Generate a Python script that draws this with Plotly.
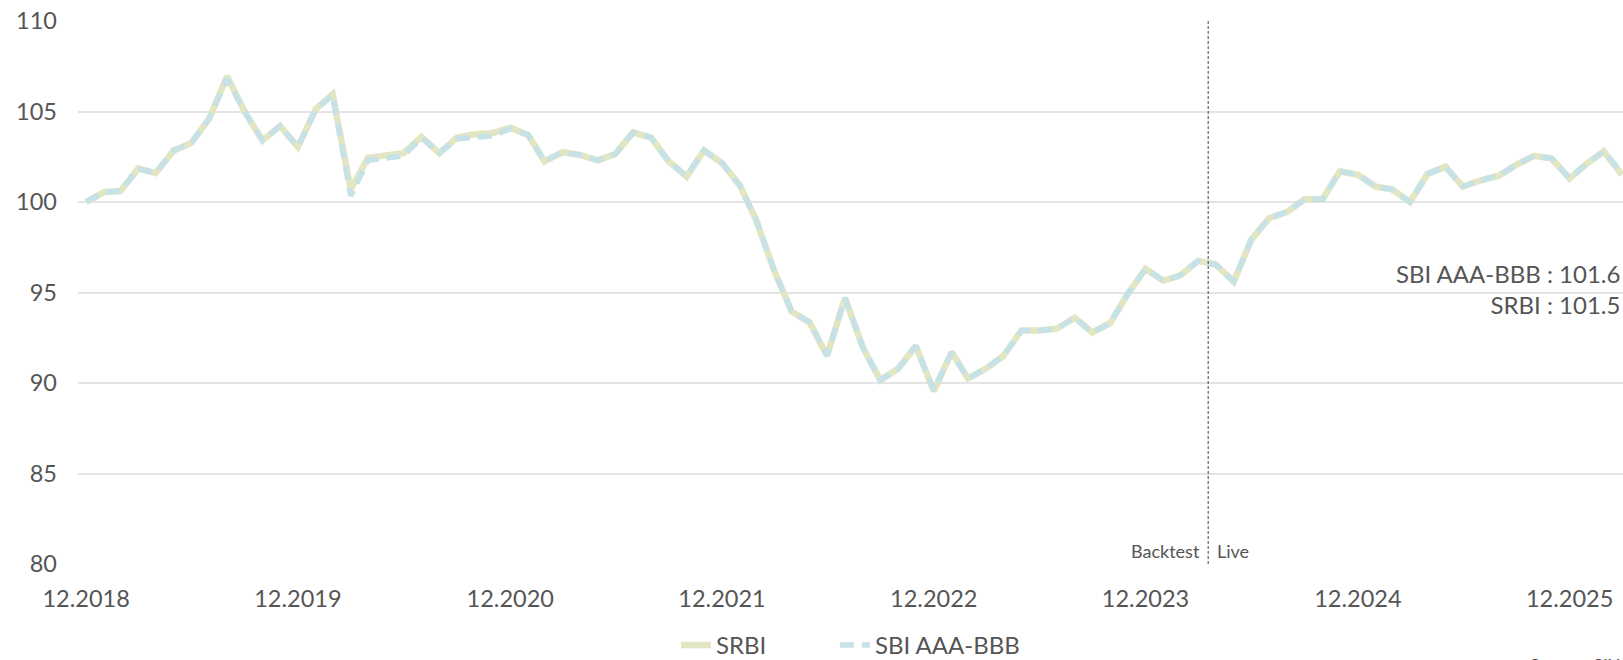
import pandas as pd
import plotly.graph_objects as go

# Monthly observations, Dec 2018 .. Mar 2026 (month ends)
dates = pd.date_range("2018-12-31", periods=88, freq=pd.offsets.MonthEnd())

srbi = [
    100.0, 100.55, 100.6, 101.85, 101.6, 102.85, 103.25, 104.6, 106.95, 105.0,
    103.4, 104.2, 103.05, 105.15, 105.95, 100.7, 102.45, 102.55, 102.7, 103.6,
    102.7, 103.55, 103.75, 103.8, 104.1, 103.7, 102.25, 102.75, 102.6, 102.3,
    102.65, 103.85, 103.55, 102.25, 101.4, 102.85, 102.15, 100.9, 99.0, 96.2,
    93.95, 93.35, 91.5, 94.7, 91.95, 90.15, 90.8, 92.05, 89.55, 91.7,
    90.25, 90.8, 91.5, 92.9, 92.9, 93.0, 93.6, 92.8, 93.3, 94.9,
    96.3, 95.65, 95.95, 96.75, 96.55, 95.6, 97.9, 99.1, 99.45, 100.15,
    100.15, 101.7, 101.5, 100.85, 100.7, 100.0, 101.55, 101.95, 100.85, 101.2,
    101.45, 102.05, 102.55, 102.4, 101.3, 102.15, 102.8, 101.5,
]

sbi_aaa_bbb = [
    100.0, 100.55, 100.6, 101.85, 101.6, 102.85, 103.25, 104.6, 106.8, 105.0,
    103.4, 104.2, 103.05, 105.1, 105.9, 100.35, 102.3, 102.4, 102.55, 103.55,
    102.7, 103.5, 103.6, 103.65, 104.05, 103.7, 102.25, 102.75, 102.6, 102.3,
    102.65, 103.85, 103.55, 102.25, 101.45, 102.85, 102.15, 100.9, 99.0, 96.2,
    93.95, 93.35, 91.5, 94.7, 91.95, 90.15, 90.8, 92.05, 89.6, 91.7,
    90.25, 90.8, 91.5, 92.9, 92.9, 93.0, 93.6, 92.8, 93.3, 94.9,
    96.3, 95.65, 95.95, 96.75, 96.55, 95.6, 97.9, 99.1, 99.45, 100.15,
    100.15, 101.7, 101.5, 100.85, 100.7, 100.0, 101.55, 101.95, 100.85, 101.2,
    101.45, 102.05, 102.55, 102.4, 101.3, 102.15, 102.8, 101.6,
]

tick_dates = ["2018-12-31", "2019-12-31", "2020-12-31", "2021-12-31",
              "2022-12-31", "2023-12-31", "2024-12-31", "2025-12-31"]
tick_labels = ["12.2018", "12.2019", "12.2020", "12.2021",
               "12.2022", "12.2023", "12.2024", "12.2025"]
live_date = "2024-04-17"

FONT = "Lato, 'Open Sans', sans-serif"
GREY = "#555555"
KHAKI = "#e2e6c2"
BLUE = "#c6e2e7"

fig = go.Figure()
fig.add_trace(go.Scatter(
    x=dates, y=srbi, name="SRBI", mode="lines", legend="legend",
    line=dict(color=KHAKI, width=6.5),
))
fig.add_trace(go.Scatter(
    x=dates, y=sbi_aaa_bbb, name="SBI AAA-BBB", mode="lines", legend="legend2",
    line=dict(color=BLUE, width=5.5, dash="14px,8px"),
))

fig.add_shape(type="line", xref="x", yref="y", x0=live_date, x1=live_date,
              y0=80, y1=110, line=dict(color="#444444", width=1, dash="3px,2px"))

fig.add_annotation(x=live_date, y=80, xref="x", yref="y", text="Backtest",
                   showarrow=False, xanchor="right", yanchor="bottom",
                   xshift=-6, yshift=0, font=dict(family=FONT, size=18, color=GREY))
fig.add_annotation(x=live_date, y=80, xref="x", yref="y", text="Live",
                   showarrow=False, xanchor="left", yanchor="bottom",
                   xshift=7, yshift=0, font=dict(family=FONT, size=18, color=GREY))

fig.add_annotation(x=1, y=95.17, xref="paper", yref="y",
                   text=f"SBI AAA-BBB : {sbi_aaa_bbb[-1]:.1f}<br>SRBI : {srbi[-1]:.1f}",
                   showarrow=False, xanchor="right", yanchor="middle", align="right",
                   xshift=-1, font=dict(family=FONT, size=24, color=GREY))

fig.add_annotation(x=0.9385, y=-0.162, xref="paper", yref="paper",
                   text="Source: SIX", showarrow=False, xanchor="left", yanchor="top",
                   font=dict(family=FONT, size=18, color=GREY))

legend_style = dict(orientation="h", xanchor="left", y=-0.15, yanchor="middle",
                    font=dict(family=FONT, size=24, color=GREY), bgcolor="rgba(0,0,0,0)")
fig.update_layout(
    width=1623, height=660,
    margin=dict(l=78, r=0, t=21, b=96, autoexpand=False),
    paper_bgcolor="white", plot_bgcolor="white",
    font=dict(family=FONT, color=GREY),
    showlegend=True,
    legend=dict(x=0.387, **legend_style),
    legend2=dict(x=0.4899, **legend_style),
    hovermode=False,
)
fig.update_xaxes(
    range=["2018-12-17", "2026-04-02"],
    tickmode="array", tickvals=tick_dates, ticktext=tick_labels,
    showgrid=False, zeroline=False, showline=False, ticks="",
    tickfont=dict(family=FONT, size=23.5, color=GREY),
    ticklabelstandoff=18,
)
fig.update_yaxes(
    range=[80, 110], dtick=5, tick0=80,
    showgrid=True, gridcolor="#e4e4e4", gridwidth=1.5,
    zeroline=False, showline=False, ticks="",
    tickfont=dict(family=FONT, size=23.5, color=GREY),
    ticklabelstandoff=20,
)

fig.write_html(
    "out.html",
    config={"displayModeBar": False},
    post_script="document.documentElement.style.overflow='hidden';"
                "document.body.style.margin='0';document.body.style.overflow='hidden';",
)
